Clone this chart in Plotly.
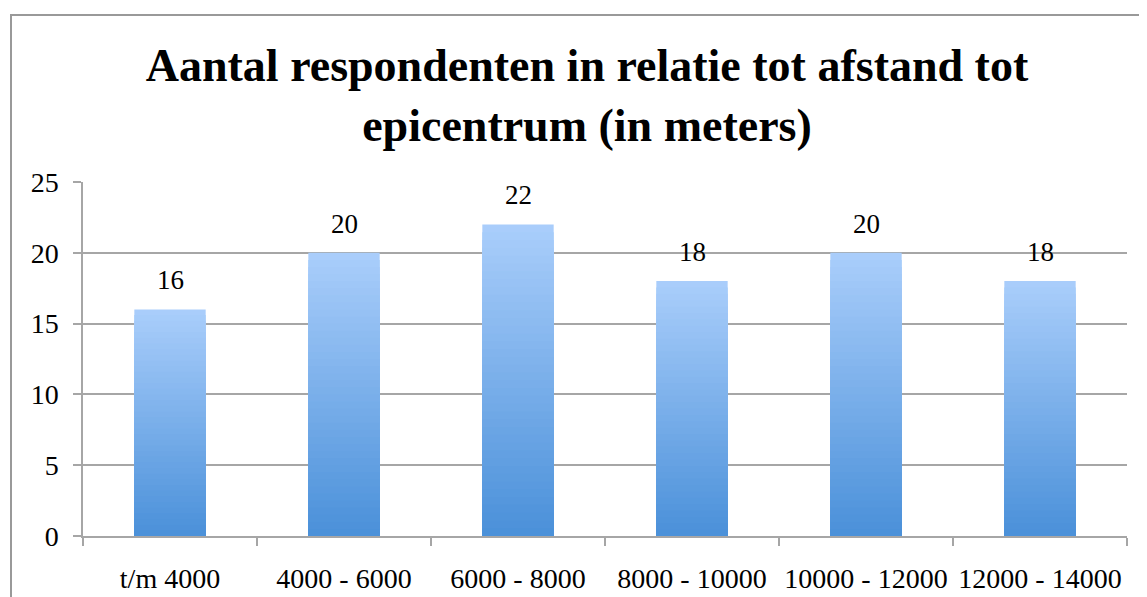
import plotly.graph_objects as go

categories = ["t/m 4000", "4000 - 6000", "6000 - 8000", "8000 - 10000", "10000 - 12000", "12000 - 14000"]
values = [16, 20, 22, 18, 20, 18]
y_ticks = [0, 5, 10, 15, 20, 25]

title = "Aantal respondenten in relatie tot afstand tot<br>epicentrum (in meters)"

# page has an 8px body margin, so figure coords = screen coords - 8
W, H = 1147, 597
L, R, T, B = 75, 28, 174, 69

light = (170, 206, 251)
dark = (74, 144, 217)
N = 40

fig = go.Figure()
for k in range(N):
    frac_top = 1 - k / N
    f = frac_top - 0.5 / N
    c = tuple(int(round(dark[i] + (light[i] - dark[i]) * f)) for i in range(3))
    fig.add_trace(go.Bar(
        x=categories,
        y=[v * frac_top for v in values],
        marker=dict(color="rgb(%d,%d,%d)" % c, line=dict(width=0)),
        width=0.41,
        hoverinfo="skip" if k else None,
        showlegend=False,
    ))

font_family = "Liberation Serif"

annotations = []
for cat, v in zip(categories, values):
    annotations.append(dict(
        x=cat, y=v, xref="x", yref="y", text=str(v), showarrow=False,
        yshift=29, yanchor="middle", xanchor="center",
        font=dict(family=font_family, size=27, color="black"),
    ))

plot_w = W - L - R
plot_h = H - T - B

fig.update_layout(
    width=W, height=H,
    margin=dict(l=L, r=R, t=T, b=B, pad=0),
    barmode="overlay",
    paper_bgcolor="white",
    plot_bgcolor="white",
    title=dict(
        text="<b>" + title + "</b>",
        x=579 / W, xref="container", xanchor="center",
        y=1 - 73 / H, yref="container", yanchor="middle",
        font=dict(family=font_family, size=46, color="black"),
    ),
    annotations=annotations,
    xaxis=dict(
        type="category",
        range=[-0.5, len(categories) - 0.5],
        showline=True, linecolor="#a6a6a6", linewidth=1.5,
        ticks="outside", tickson="boundaries", ticklen=8, tickcolor="#a6a6a6", tickwidth=1.5,
        showgrid=False,
        tickfont=dict(family=font_family, size=28, color="black"),
        ticklabelstandoff=17,
    ),
    yaxis=dict(
        range=[0, 25],
        tickvals=y_ticks,
        showline=True, linecolor="#a6a6a6", linewidth=1.5,
        ticks="outside", ticklen=8, tickcolor="#a6a6a6", tickwidth=1.5,
        showgrid=True, gridcolor="#a6a6a6", gridwidth=1.5,
        zeroline=False,
        tickfont=dict(family=font_family, size=28, color="black"),
        ticklabelstandoff=9,
    ),
    shapes=[
        dict(type="rect", xref="paper", yref="paper",
             x0=(3 - L) / plot_w, x1=(W + 20 - L) / plot_w,
             y0=-(B + 20) / plot_h, y1=(H - B - 7) / plot_h,
             line=dict(color="#999999", width=2), fillcolor="rgba(0,0,0,0)", layer="below"),
    ],
)

fig.write_html("out.html")
